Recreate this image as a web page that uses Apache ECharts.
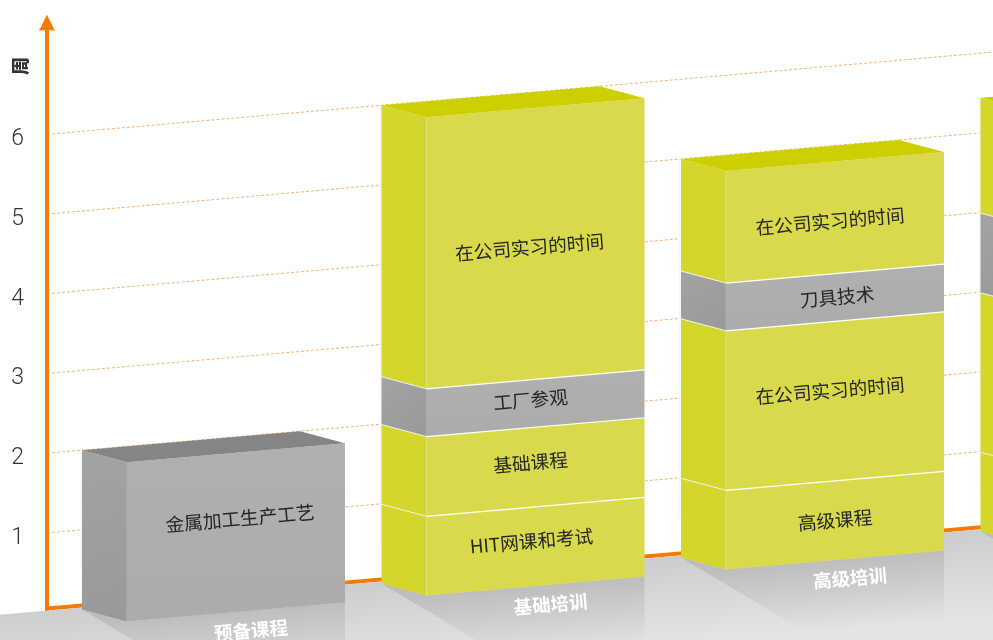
<!DOCTYPE html>
<html>
<head>
<meta charset="utf-8">
<title>培训周期</title>
<style>html,body{margin:0;padding:0;background:#fff}#chart{width:993px;height:640px;overflow:hidden}</style>
<script src="https://cdn.jsdelivr.net/npm/echarts@6/dist/echarts.min.js"></script>
</head>
<body>
<div id="chart"></div>
<script>
// Training programme lengths, in weeks, stacked from the floor upward.
const categories = ['预备课程', '基础培训', '高级培训', ''];
const yTicks = [1, 2, 3, 4, 5, 6];
const prepWeeks = [2];
const basicWeeks = [1, 1, 0.6, 3.4];
const advancedWeeks = [1, 2, 0.6, 1.4];
const fourthWeeks = [1, 2, 1, 1.44];
const prepNames = ['金属加工生产工艺'];
const basicNames = ['HIT网课和考试', '基础课程', '工厂参观', '在公司实习的时间'];
const advancedNames = ['高级课程', '在公司实习的时间', '刀具技术', '在公司实习的时间'];
const fourthNames = ['', '', '', ''];
const prepKinds = ['grey'];
const basicKinds = ['yellow', 'yellow', 'grey', 'yellow'];
const advancedKinds = ['yellow', 'yellow', 'grey', 'yellow'];
const fourthKinds = ['yellow', 'yellow', 'grey', 'yellow'];

// Small text nudges away from the exact face centre.
const labelNudges = [
  [[4, -14]],
  [[-4, -5], [-5, -4], [-5, -3], [-6, 4]],
  [[0, 0], [-5, -10], [2, 0], [-5, 4]],
  [[0, 0], [0, 0], [0, 0], [0, 0]]
];

// Oblique projection settings for the box drawing.
const SLOPE = 0.087;
const ANGLE = Math.atan(SLOPE);
const AXIS_X = 47;
const BAND = 299.5;
const FACE_W = 218;
const DEPTH_X = 45;
const DEPTH_Y = 12;
const CJK = '"Noto Sans CJK SC", sans-serif';

const palette = {
  yellow: { front: '#d8da4c', side: '#d3d62b', top: '#ccd000', edge: '#e0e27a' },
  grey: {
    front: new echarts.graphic.LinearGradient(0, 0, 0, 1, [{ offset: 0, color: '#b0b0b0' }, { offset: 1, color: '#acacac' }]),
    side: new echarts.graphic.LinearGradient(0, 0, 1, 1, [{ offset: 0, color: '#a3a3a3' }, { offset: 1, color: '#999999' }]),
    top: '#858585',
    edge: '#aeaeae'
  }
};

const stacks = [prepWeeks, basicWeeks, advancedWeeks, fourthWeeks];
const names = [prepNames, basicNames, advancedNames, fourthNames];
const kinds = [prepKinds, basicKinds, advancedKinds, fourthKinds];

// Flatten the stacks into [category, start, end] rows for the custom series.
const rows = [];
const rowInfo = [];
stacks.forEach((weeks, c) => {
  let sum = 0;
  weeks.forEach((w, i) => {
    rows.push([c, sum, sum + w]);
    rowInfo.push({ c, i, last: i === weeks.length - 1, name: names[c][i], kind: kinds[c][i], nudge: labelNudges[c][i] });
    sum += w;
  });
});

// Tilts a plain cartesian point onto the receding wall.
function tilt(x, y) {
  return [x, y - SLOPE * (x - AXIS_X)];
}
function boxX(api, c) {
  return api.coord([c, 0])[0] - BAND / 2 + 35;
}

function renderGridline(params, api) {
  const y = api.coord([0, api.value(1)])[1];
  const a = tilt(52, y);
  const b = tilt(api.getWidth() + 5, y);
  return {
    type: 'line',
    shape: { x1: a[0], y1: a[1], x2: b[0], y2: b[1] },
    style: { stroke: '#f4a860', lineWidth: 1, lineDash: [3, 2], opacity: 0.9 }
  };
}

function renderBaseline(params, api) {
  const y = api.coord([0, 0])[1] - 4;
  const a = tilt(AXIS_X - 2, y);
  const b = tilt(api.getWidth() + 5, y);
  return {
    type: 'line',
    shape: { x1: a[0], y1: a[1], x2: b[0], y2: b[1] },
    style: { stroke: '#f57a00', lineWidth: 4 }
  };
}

function renderFloor(params, api) {
  const y = api.coord([0, 0])[1] - 2;
  const w = api.getWidth();
  const h = api.getHeight();
  const a = tilt(0, y);
  const b = tilt(w, y);
  const g0 = tilt(500, y);
  return {
    type: 'polygon',
    shape: { points: [a, b, [w, h], [0, h]] },
    style: {
      fill: new echarts.graphic.LinearGradient(g0[0], g0[1], g0[0] + 7, g0[1] + 85, [
        { offset: 0, color: '#cdcdcd' },
        { offset: 1, color: '#e4e4e4' }
      ], true)
    }
  };
}

// Soft shadow and reflection on the floor in front of each box.
function renderShadow(params, api) {
  const c = api.value(0);
  const x = boxX(api, c);
  const y = api.coord([c, 0])[1];
  const b = tilt(x, y);
  const fl = [x + DEPTH_X, b[1] + DEPTH_Y];
  const fr = [fl[0] + FACE_W, fl[1] - SLOPE * FACE_W];
  return {
    type: 'polygon',
    shape: {
      points: [b, fl, fr, [fr[0], fr[1] + 72], [b[0] + 124, b[1] + 74]]
    },
    style: {
      fill: new echarts.graphic.LinearGradient(fl[0], fl[1], fl[0] + 6, fl[1] + 70, [
        { offset: 0, color: 'rgba(150,150,150,0.33)' },
        { offset: 1, color: 'rgba(150,150,150,0)' }
      ], true)
    }
  };
}

function renderCategoryLabel(params, api) {
  const c = api.value(0);
  const x = boxX(api, c);
  const y = api.coord([c, 0])[1];
  const p = tilt(x, y);
  const cx = x + DEPTH_X + FACE_W / 2 + 15;
  const cy = p[1] + DEPTH_Y - SLOPE * (cx - x - DEPTH_X) + 19.5;
  return {
    type: 'text',
    x: cx,
    y: cy,
    rotation: ANGLE,
    style: {
      text: categories[c],
      align: 'center',
      verticalAlign: 'middle',
      fontFamily: CJK,
      fontSize: 18.5,
      fontWeight: 700,
      fill: '#ffffff'
    }
  };
}

function renderSegment(params, api) {
  const info = rowInfo[params.dataIndex];
  const c = api.value(0);
  const x = boxX(api, c);
  const y0 = api.coord([c, api.value(1)])[1];
  const y1 = api.coord([c, api.value(2)])[1];
  const colors = palette[info.kind];

  const backL = yy => tilt(x, yy);
  const frontL = yy => { const p = tilt(x, yy); return [x + DEPTH_X, p[1] + DEPTH_Y]; };
  const frontR = yy => { const p = frontL(yy); return [p[0] + FACE_W, p[1] - SLOPE * FACE_W]; };
  const backR = yy => { const p = backL(yy); return [p[0] + FACE_W, p[1] - SLOPE * FACE_W]; };

  // The pale outline on the back edge stops short of the floor.
  const haloStart = backL(y0)[1] - (info.i === 0 ? 40 : 0);

  const children = [
    { type: 'line', shape: { x1: x - 1, y1: haloStart, x2: x - 1, y2: backL(y1)[1] }, style: { stroke: '#f6f6f6', lineWidth: 1.5 } },
    { type: 'polygon', shape: { points: [backL(y0), frontL(y0), frontL(y1), backL(y1)] }, style: { fill: colors.side } },
    { type: 'polygon', shape: { points: [frontL(y0), frontR(y0), frontR(y1), frontL(y1)] }, style: { fill: colors.front } },
    { type: 'line', shape: { x1: x + DEPTH_X, y1: frontL(y0)[1], x2: x + DEPTH_X, y2: frontL(y1)[1] }, style: { stroke: colors.edge, lineWidth: 1 } }
  ];

  if (info.last) {
    children.push({
      type: 'polygon',
      shape: { points: [backL(y1), backR(y1), frontR(y1), frontL(y1)] },
      style: { fill: colors.top }
    });
  } else {
    const fa = frontL(y1), fb = frontR(y1), sa = backL(y1);
    children.push(
      { type: 'line', shape: { x1: sa[0], y1: sa[1], x2: fa[0], y2: fa[1] }, style: { stroke: '#efefef', lineWidth: 2 } },
      { type: 'line', shape: { x1: fa[0], y1: fa[1], x2: fb[0], y2: fb[1] }, style: { stroke: '#ffffff', lineWidth: 2.4 } }
    );
  }

  if (info.name) {
    const cx = x + DEPTH_X + FACE_W / 2;
    const bottom = frontL(y0)[1] - SLOPE * FACE_W / 2;
    const top = frontL(y1)[1] - SLOPE * FACE_W / 2;
    children.push({
      type: 'text',
      x: cx + info.nudge[0],
      y: (bottom + top) / 2 + info.nudge[1],
      rotation: ANGLE,
      style: {
        text: info.name,
        align: 'center',
        verticalAlign: 'middle',
        fontFamily: CJK,
        fontSize: 18.7,
        fill: '#262626'
      }
    });
  }
  return { type: 'group', children };
}

const chart = echarts.init(document.getElementById('chart'), null, { renderer: 'canvas' });
const categoryRows = categories.map((_, i) => [i, 0]);

chart.setOption({
  animation: false,
  grid: { left: AXIS_X, top: 22.8, width: BAND * categories.length, height: 589.8, containLabel: false, outerBoundsMode: 'none' },
  xAxis: { type: 'category', data: categories, show: false },
  yAxis: {
    type: 'value',
    min: 0,
    max: 7.4,
    interval: 1,
    splitLine: { show: false },
    axisTick: { show: false },
    axisLine: {
      show: true,
      lineStyle: { color: '#f57a00', width: 4 },
      symbol: ['none', 'path://M50 0 L100 100 L50 94 L0 100 Z'],
      symbolSize: [16, 21]
    },
    axisLabel: {
      margin: 23,
      verticalAlign: 'top',
      lineHeight: 10,
      fontFamily: 'Roboto, sans-serif',
      fontWeight: 300,
      fontSize: 23,
      color: '#333333',
      formatter: v => (yTicks.includes(v) ? String(v) : '')
    }
  },
  graphic: [{
    type: 'text',
    x: 20,
    y: 66,
    rotation: Math.PI / 2,
    z: 10,
    style: {
      text: '周',
      align: 'center',
      verticalAlign: 'middle',
      fontFamily: CJK,
      fontSize: 18,
      fontWeight: 900,
      fill: '#333333'
    }
  }],
  series: [
    { type: 'custom', name: '网格', z: 1, silent: true, renderItem: renderGridline, encode: { x: 0, y: 1 }, data: yTicks.map(v => [0, v]) },
    { type: 'custom', name: '基线', z: 1, silent: true, renderItem: renderBaseline, encode: { x: 0, y: 1 }, data: [[0, 0]] },
    { type: 'custom', name: '地面', z: 2, silent: true, renderItem: renderFloor, encode: { x: 0, y: 1 }, data: [[0, 0]] },
    { type: 'custom', name: '阴影', z: 3, silent: true, renderItem: renderShadow, encode: { x: 0, y: 1 }, data: categoryRows },
    { type: 'custom', name: '类别', z: 5, silent: true, renderItem: renderCategoryLabel, encode: { x: 0, y: 1 }, data: categoryRows },
    { type: 'custom', name: '课程', z: 4, silent: true, renderItem: renderSegment, encode: { x: 0, y: [1, 2] }, data: rows }
  ]
});
</script>
</body>
</html>
